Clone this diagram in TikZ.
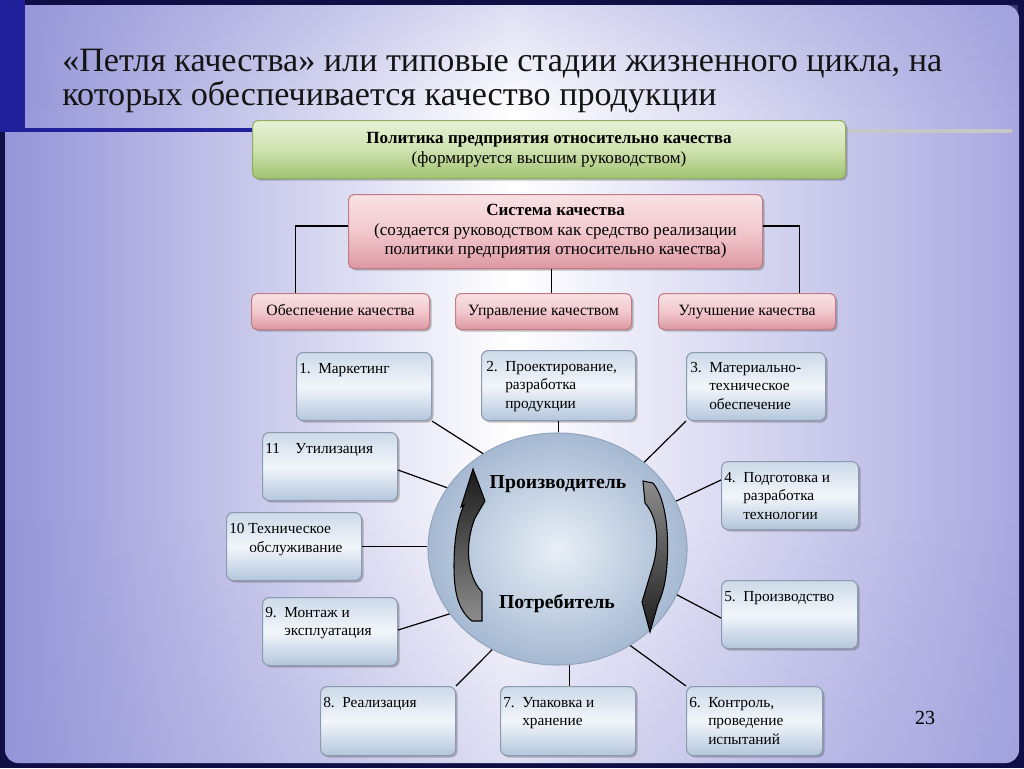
\documentclass[tikz,border=0pt]{standalone}
\usepackage{fontspec}
\setmainfont{Liberation Serif}
\usetikzlibrary{shapes.geometric,shadows,fadings}
\definecolor{navy}{HTML}{0F0F45}
\definecolor{barblue}{HTML}{20209A}
\definecolor{bgL}{HTML}{9494D8}
\definecolor{bgR}{HTML}{A8A8E0}
\definecolor{bluetop}{HTML}{CCD9E8}
\definecolor{bluemid}{HTML}{F2F6FB}
\definecolor{bluebot}{HTML}{B4C6DC}
\definecolor{blueedge}{HTML}{8A9BB0}
\definecolor{pinktop}{HTML}{F8E2E4}
\definecolor{pinkmid}{HTML}{F2C8CD}
\definecolor{pinkbot}{HTML}{DC98A2}
\definecolor{pinkedge}{HTML}{C27A85}
\definecolor{greentop}{HTML}{E8F1D6}
\definecolor{greenmid}{HTML}{CFE2B0}
\definecolor{greenbot}{HTML}{A0C270}
\definecolor{greenedge}{HTML}{8FAF60}
\definecolor{circin}{HTML}{E8EFF6}
\definecolor{circout}{HTML}{A6B9D2}
\definecolor{circedge}{HTML}{93A6BE}
\newfontfamily\serfont{Liberation Serif}
\begin{document}
\begin{tikzpicture}[x=0.75pt,y=-0.75pt,
  shadowed/.style={drop shadow={shadow xshift=1.5pt,shadow yshift=-1.5pt,opacity=0.35,fill=black!70}},
  bluebox/.style={draw=blueedge,line width=0.8pt,rounded corners=5pt,top color=bluetop,bottom color=bluebot,middle color=bluemid,shadowed,anchor=north west,inner sep=0pt},
  pinkbox/.style={draw=pinkedge,line width=0.8pt,rounded corners=4pt,top color=pinktop,bottom color=pinkbot,middle color=pinkmid,shadowed,anchor=north west,inner sep=0pt,align=center},
  smallpink/.style={pinkbox,minimum height=36*0.75pt,text height=8.5pt,text depth=2.5pt,font=\serfont\fontsize{11.8}{13}\selectfont},
  greenbox/.style={draw=greenedge,line width=0.8pt,rounded corners=4pt,top color=greentop,bottom color=greenbot,middle color=greenmid,shadowed,anchor=north west,inner sep=0pt,align=center},
  btext/.style={anchor=north west,inner sep=0pt,align=left,font=\serfont\fontsize{11.5}{13.9}\selectfont},
  conn/.style={draw=black,line width=0.9pt},
  title/.style={anchor=base west,inner sep=0pt,font=\serfont\fontsize{25.6}{28}\selectfont,text=black!92},
  ctext/.style={inner sep=0pt,font=\serfont\fontsize{14.8}{17}\selectfont\bfseries}
]
\useasboundingbox (0,0) rectangle (1024,768);
% slide background
\fill[navy] (0,0) rectangle (1024,768);
\shade[left color=bgL,right color=bgR,middle color=white,rounded corners=10pt] (5,5) rectangle (1019,763);
\fill[bgL,fill opacity=0.3,path fading=north,rounded corners=10pt] (5,520) rectangle (1019,763);
\fill[bgL,fill opacity=0.3,path fading=south] (25,5) rectangle (1019,110);
\fill[barblue] (0,0) rectangle (25,132);
\draw[barblue,line width=3pt] (25,130) -- (255,130);
\draw[black!22,line width=2.5pt] (843,131) -- (1012,131);

% title
\node[title] (title1) at (62,71) {«Петля качества» или типовые стадии жизненного цикла, на};
\node[title] (title2) at (62,105) {которых обеспечивается качество продукции};

% policy and quality system
\node[greenbox,minimum width=593*0.75pt,minimum height=58*0.75pt,font=\serfont\fontsize{12.8}{15}\selectfont] (pol) at (252,120)
  {\textbf{Политика предприятия относительно качества}\\(формируется высшим руководством)};
\node[pinkbox,minimum width=414*0.75pt,minimum height=74*0.75pt,font=\serfont\fontsize{12.8}{14.6}\selectfont] (sys) at (348,194)
  {\textbf{Система качества}\\(создается руководством как средство реализации\\политики предприятия относительно качества)};
\node[smallpink,minimum width=178*0.75pt] (q1) at (251,293) {Обеспечение качества};
\node[smallpink,minimum width=176*0.75pt] (q2) at (455,293) {Управление качеством};
\node[smallpink,minimum width=177*0.75pt] (q3) at (658,293) {Улучшение качества};
\draw[conn] ([yshift=-24pt]sys.north west) -| ([xshift=-33.75pt]q1.north);
\draw[conn] ([yshift=-24pt]sys.north east) -| ([xshift=39.4pt]q3.north);
\draw[conn] ([xshift=-3pt]sys.south) -- ([xshift=-3pt]sys.south |- q2.north);

% central circle
\node[ellipse,draw=circedge,line width=0.8pt,inner color=circin,outer color=circout,minimum width=259*0.75pt,minimum height=232*0.75pt,inner sep=0pt] (c) at (557.5,549) {};
% curved arrows
\shade[top color=black!90,bottom color=black!45,draw=black,line width=0.8pt]
  (473,469) -- (485,501) -- (475,518)
  .. controls (465,543) and (466,575) .. (482,592) -- (482,621) -- (472,621)
  .. controls (458,610) and (454,592) .. (454,566)
  .. controls (454,538) and (458,518) .. (464,505) -- (461,507) -- cycle;
\shade[top color=black!45,bottom color=black!88,draw=black,line width=0.8pt]
  (643,481) -- (653,483)
  .. controls (667,500) and (670,540) .. (666,575)
  .. controls (664,590) and (660,600) .. (658,604) -- (650,632) -- (642,602) -- (651,572)
  .. controls (659,550) and (660,520) .. (645,503) -- cycle;
\node[ctext] (prod) at (558,484) {Производитель};
\node[ctext] (potr) at (557,604) {Потребитель};

% stage boxes
\node[bluebox,minimum width=135*0.75pt,minimum height=68*0.75pt] (b1) at (296,352) {};
\node[bluebox,minimum width=154*0.75pt,minimum height=70*0.75pt] (b2) at (481,350) {};
\node[bluebox,minimum width=139*0.75pt,minimum height=68*0.75pt] (b3) at (686,352) {};
\node[bluebox,minimum width=137*0.75pt,minimum height=68*0.75pt] (b4) at (721,461) {};
\node[bluebox,minimum width=136*0.75pt,minimum height=68*0.75pt] (b5) at (721,580) {};
\node[bluebox,minimum width=136*0.75pt,minimum height=69*0.75pt] (b6) at (686,686) {};
\node[bluebox,minimum width=135*0.75pt,minimum height=69*0.75pt] (b7) at (500,686) {};
\node[bluebox,minimum width=135*0.75pt,minimum height=69*0.75pt] (b8) at (320,686) {};
\node[bluebox,minimum width=135*0.75pt,minimum height=68*0.75pt] (b9) at (262,597) {};
\node[bluebox,minimum width=135*0.75pt,minimum height=68*0.75pt] (b10) at (226,512) {};
\node[bluebox,minimum width=135*0.75pt,minimum height=68*0.75pt] (b11) at (262,432) {};

\node[btext] (t1) at (299,363) {\makebox[14.25pt][l]{1.}Маркетинг};
\node[btext] (t2) at (486,361) {\makebox[14.25pt][l]{2.}Проектирование,\\\hspace*{14.25pt}разработка\\\hspace*{14.25pt}продукции};
\node[btext] (t3) at (690,362) {\makebox[14.25pt][l]{3.}Материально-\\\hspace*{14.25pt}техническое\\\hspace*{14.25pt}обеспечение};
\node[btext] (t4) at (724,472) {\makebox[14.25pt][l]{4.}Подготовка и\\\hspace*{14.25pt}разработка\\\hspace*{14.25pt}технологии};
\node[btext] (t5) at (724,591) {\makebox[14.25pt][l]{5.}Производство};
\node[btext] (t6) at (689,697) {\makebox[14.25pt][l]{6.}Контроль,\\\hspace*{14.25pt}проведение\\\hspace*{14.25pt}испытаний};
\node[btext] (t7) at (503,697) {\makebox[14.25pt][l]{7.}Упаковка и\\\hspace*{14.25pt}хранение};
\node[btext] (t8) at (323,697) {\makebox[14.25pt][l]{8.}Реализация};
\node[btext] (t9) at (265,607) {\makebox[14.25pt][l]{9.}Монтаж и\\\hspace*{14.25pt}эксплуатация};
\node[btext] (t10) at (229,523) {10 Техническое\\\hspace*{15pt}обслуживание};
\node[btext] (t11) at (265,443) {\makebox[22.5pt][l]{11}Утилизация};

% connectors to circle
\draw[conn] (b1.south east) -- (c.128.2);
\draw[conn] (b2.south) -- (b2.south |- c.north);
\draw[conn] (b3.south west) -- (c.45.5);
\draw[conn] ([yshift=-14.25pt]b4.north west) -- (c.22.3);
\draw[conn] ([yshift=-28.5pt]b5.north west) -- (c.-21.9);
\draw[conn] (b6.north west) -- (c.-53.5);
\draw[conn] (c.-84.8) -- (c.-84.8 |- b7.north);
\draw[conn] (b8.north east) -- (c.-123.5);
\draw[conn] ([yshift=-24.75pt]b9.north east) -- (c.-149.2);
\draw[conn] (b10.east) -- (b10.east -| c.west);
\draw[conn] ([yshift=-28.5pt]b11.north east) -- (c.151.5);

% page number
\node[inner sep=0pt,font=\serfont\fontsize{15}{18}\selectfont] (pn) at (925,718) {23};
\end{tikzpicture}
\end{document}
